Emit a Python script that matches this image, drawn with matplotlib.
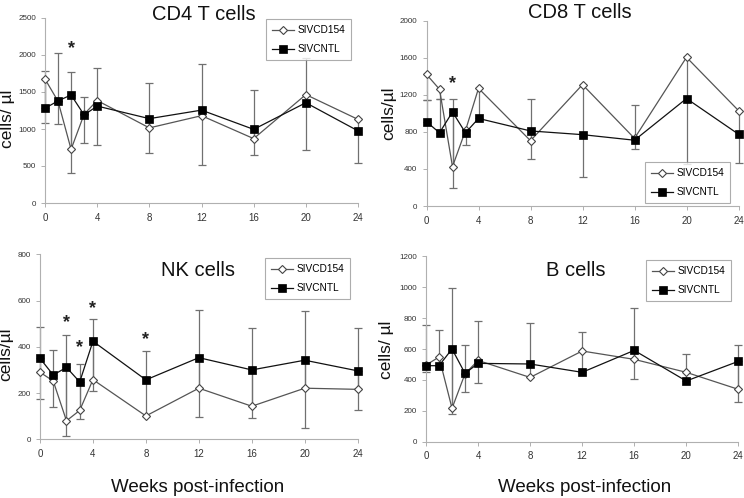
import numpy as np
import matplotlib
matplotlib.use("Agg")
import matplotlib.pyplot as plt

plt.rcParams['font.family'] = ['Liberation Sans', 'DejaVu Sans']

weeks = [0, 1, 2, 3, 4, 8, 12, 16, 20, 24]
xticks = [0, 4, 8, 12, 16, 20, 24]
series_names = ["SIVCD154", "SIVCNTL"]

# CD4 T cells
cd4_cd154 = [1675, 1375, 725, 1200, 1385, 1015, 1180, 870, 1465, 1130]
cd4_cntl = [1280, 1380, 1460, 1190, 1310, 1140, 1255, 995, 1355, 975]
cd4_hi = [1785, 2025, 1775, 1435, 1830, 1615, 1875, 1530, 1965, np.nan]
cd4_lo = [1085, 1065, 400, 815, 780, 670, 510, 655, 715, 535]

# CD8 T cells
cd8_cd154 = [1420, 1260, 425, 815, 1270, 705, 1310, 730, 1605, 1030]
cd8_cntl = [910, 790, 1015, 790, 945, 810, 770, 710, 1160, 775]
cd8_hi = [1145, 1150, 1160, np.nan, np.nan, 1155, np.nan, 1090, np.nan, np.nan]
cd8_lo = [1145, 1150, 190, 655, 950, 510, 315, 620, 450, 465]

# NK cells
nk_cd154 = [290, 252, 80, 125, 258, 101, 221, 143, 221, 216]
nk_cntl = [350, 278, 311, 248, 424, 257, 353, 300, 342, 296]
nk_hi = [484, 388, 450, 326, 519, 381, 559, 483, 556, 483]
nk_lo = [174, 140, 14, 88, 210, np.nan, 97, 94, 48, 128]

# B cells
b_cd154 = [496, 548, 216, 440, 526, 416, 587, 533, 449, 339]
b_cntl = [492, 492, 600, 442, 507, 503, 449, 591, 393, 520]
b_hi = [755, 725, 992, 628, 781, 770, 712, 863, 567, 626]
b_lo = [449, np.nan, 181, 319, 382, np.nan, np.nan, 403, np.nan, 259]

# significance markers (week, height)
cd4_stars = ([2], [2080])
cd8_stars = ([2], [1320])
nk_stars = ([2, 3, 4, 8], [505, 398, 565, 430])
b_stars = ([], [])

W, H = 744, 498
fig = plt.figure(figsize=(W / 100, H / 100), dpi=100)


def ax_px(l, r, t, b):
    return fig.add_axes([l / W, 1 - b / H, (r - l) / W, (b - t) / H])


panels = [
    dict(box=(45, 358, 18, 203), a=cd4_cd154, c=cd4_cntl, hi=cd4_hi, lo=cd4_lo,
         ymax=2500, ystep=500, stars=cd4_stars, title="CD4 T cells", tpos=(204, 14),
         ylab="cells/ µl", ypos=(8, 119), leg=(266, 19)),
    dict(box=(426.5, 738.5, 20.7, 206), a=cd8_cd154, c=cd8_cntl, hi=cd8_hi, lo=cd8_lo,
         ymax=2000, ystep=400, stars=cd8_stars, title="CD8 T cells", tpos=(580, 13),
         ylab="cells/µl", ypos=(389, 113), leg=(645, 162)),
    dict(box=(40, 357.7, 254.3, 439.3), a=nk_cd154, c=nk_cntl, hi=nk_hi, lo=nk_lo,
         ymax=800, ystep=200, stars=nk_stars, title="NK cells", tpos=(198, 270),
         ylab="cells/µl", ypos=(6, 354), leg=(265, 258)),
    dict(box=(426, 738.3, 256.3, 441.7), a=b_cd154, c=b_cntl, hi=b_hi, lo=b_lo,
         ymax=1200, ystep=200, stars=b_stars, title="B cells", tpos=(576, 270),
         ylab="cells/ µl", ypos=(387, 350), leg=(646, 260)),
]

spine_c = '#b0b0b0'
err_c = '#707070'

for p in panels:
    ax = ax_px(*p['box'])
    a = np.array(p['a'], float)
    c = np.array(p['c'], float)
    hi = np.array(p['hi'], float)
    lo = np.array(p['lo'], float)
    x = np.array(weeks, float)
    for s, o in ((a, c), (c, a)):
        is_low = s <= o
        up = np.where(is_low & ~np.isnan(hi), hi - s, 0.0)
        dn = np.where(~is_low & ~np.isnan(lo), s - lo, 0.0)
        up = np.clip(np.nan_to_num(up), 0, None)
        dn = np.clip(np.nan_to_num(dn), 0, None)
        m = (up > 0) | (dn > 0)
        ax.errorbar(x[m], s[m], yerr=[dn[m], up[m]], fmt='none', ecolor=err_c,
                    elinewidth=0.9, capsize=2.6, capthick=0.9, zorder=2, clip_on=False)
    ax.plot(x, a, color='#555555', lw=0.9, marker='D', ms=3.9, mfc='white',
            mec='#444444', mew=0.8, label=series_names[0], zorder=3, clip_on=False)
    ax.plot(x, c, color='#111111', lw=0.9, marker='s', ms=5.2, mfc='black',
            mec='black', mew=0.5, label=series_names[1], zorder=4, clip_on=False)
    sx, sy = p['stars']
    for xx, yy in zip(sx, sy):
        ax.text(xx, yy, '*', ha='center', va='center', fontsize=13,
                fontweight='bold', color='#222222')

    ax.set_xlim(0, 24)
    ax.set_ylim(0, p['ymax'])
    ax.set_xticks(xticks)
    ax.set_yticks(np.arange(0, p['ymax'] + 1, p['ystep']))
    for sp in ('top', 'right'):
        ax.spines[sp].set_visible(False)
    for sp in ('left', 'bottom'):
        ax.spines[sp].set_color(spine_c)
        ax.spines[sp].set_linewidth(0.8)
    ax.tick_params(axis='both', direction='out', length=3, width=0.7, color=spine_c,
                   labelcolor='#333333')
    ax.tick_params(axis='y', labelsize=5.8, pad=3.5)
    ax.tick_params(axis='x', labelsize=7, pad=4)
    ax.patch.set_alpha(0)

    leg = ax.legend(loc='upper left',
                    bbox_to_anchor=(p['leg'][0] / W, 1 - p['leg'][1] / H),
                    bbox_transform=fig.transFigure, borderaxespad=0,
                    fontsize=7.3, handlelength=2.2, handletextpad=0.3,
                    borderpad=0.6, labelspacing=0.9, frameon=True,
                    fancybox=False, numpoints=1)
    leg.get_frame().set_edgecolor('#999999')
    leg.get_frame().set_linewidth(0.8)

    fig.text(p['tpos'][0] / W, 1 - p['tpos'][1] / H, p['title'], ha='center',
             va='center', fontsize=14.5, color='#111111')
    fig.text(p['ypos'][0] / W, 1 - p['ypos'][1] / H, p['ylab'], rotation=90,
             ha='center', va='center', fontsize=12.5, color='#111111')

fig.text(197.5 / W, 1 - 487 / H, "Weeks post-infection", ha='center', va='center',
         fontsize=13.5, color='#111111')
fig.text(585 / W, 1 - 487 / H, "Weeks post-infection", ha='center', va='center',
         fontsize=13.5, color='#111111')

fig.savefig("out.png", dpi=100, facecolor='white')
